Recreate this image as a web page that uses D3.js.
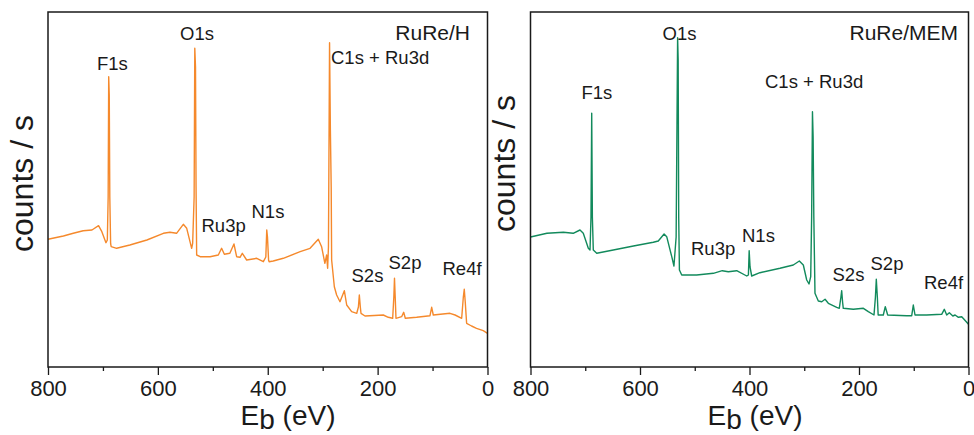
<!DOCTYPE html>
<html><head><meta charset="utf-8">
<script src="https://cdn.jsdelivr.net/npm/d3@7"></script>
<style>
html,body{margin:0;padding:0;background:#fff;}
svg{display:block;font-family:"Liberation Sans",Arial,Helvetica,sans-serif;}
</style></head>
<body><svg id="chart" width="974" height="435"></svg>
<script>
// ---------- DATA ----------
const xTicksMajor = [800, 600, 400, 200, 0];
const xTicksMinor = [700, 500, 300, 100];
const xLabel = "E";
const xLabelSub = "b";
const xLabelUnit = " (eV)";
const yLabel = "counts / s";
const panelTitles = ["RuRe/H", "RuRe/MEM"];
const peakNames = ["F1s", "O1s", "C1s + Ru3d", "Ru3p", "N1s", "S2s", "S2p", "Re4f"];

// RuRe/H spectrum (binding energy eV, counts/s arbitrary)
const ebH = [800,772,754,736,720,708,702,694.5,692,690.5,689.5,688.5,687.5,686,685,675,651,620,590,578,566,553.7,547.5,538.5,536.7,534,532.8,531.5,530.5,529.4,523,505,490,484,479,469,461.5,456.6,450.5,446.3,438.4,420,408,403.5,401.8,400.5,398.5,397.5,390,371.7,341,323,308,302,296,292.8,291,289.5,287.5,286,284.5,283.7,278.8,274.6,268.5,260.6,256.3,247.3,238,235,233.3,231.5,230.3,223,189.7,180.6,172.6,170.5,169.3,168,166.6,156.3,152.6,149.6,129,104.7,101.6,98.7,68.3,59,47,44,42.3,40.5,38,29,20,7.8,0];
const cntH = [1277,1310,1337,1363,1370,1413,1353,1243,1270,1700,2903,2720,1700,1233,1203,1187,1220,1270,1337,1347,1337,1427,1387,1187,1237,1700,3187,3000,1800,1120,1103,1103,1120,1187,1127,1137,1230,1103,1097,1137,1070,1087,1053,1100,1370,1300,1070,1053,1060,1087,1153,1187,1277,1203,1037,1120,987,1200,3243,2370,1800,1070,803,720,653,763,620,553,537,600,720,600,537,510,520,497,487,700,887,700,487,503,547,487,497,513,597,520,537,520,487,700,777,650,437,410,387,363,337];

// RuRe/MEM spectrum
const ebM = [800,770,740,722,709.6,703.6,694.4,691.3,689.5,688.2,687,685.3,679,648.8,612,575.7,566.6,556,551.2,542,538,534,532.5,531.3,530.3,529.3,528,523.8,496.5,466,449.7,438.7,423.4,405,402,400.6,399,396,381,344.3,320,309,301.7,295.5,291.3,288.2,286.5,285,283.8,282.5,280.4,274.3,268,262,256,240.7,236,233,231.6,230,228.7,210.4,192,183,172.6,170,168.4,166.5,165,155.6,152,147.6,112.9,103.7,100.8,97.7,76.4,49,44.2,39.8,35,28.6,24.5,18.4,12.4,8.2,0];
const cntM = [1300,1337,1347,1337,1370,1337,1187,1170,1500,2537,1500,1170,1137,1170,1210,1247,1260,1330,1303,1103,1010,1300,2400,3293,3070,1500,970,920,920,937,963,953,963,910,920,1163,1000,910,943,987,1020,1060,1020,870,830,903,1500,2553,2300,1500,737,660,653,677,637,597,587,700,763,650,587,577,587,553,520,700,877,700,520,520,603,520,513,513,620,520,520,527,577,520,543,510,520,497,503,477,427];

// ---------- LAYOUT ----------
const panels = [
  {x0:48, x1:487.5, eb:ebH, cnt:cntH, color:"#F5892C", title:panelTitles[0], titleX:470,
   yLab:{x:33, y:183.5}, xLab:{x:288},
   labels:[[97,70],[180,39.5],[331,63.5],[201.5,232],[251.5,218],[351.5,281.5],[388.5,269],[442.5,275]]},
  {x0:530.5, x1:968.5, eb:ebM, cnt:cntM, color:"#128A5C", title:panelTitles[1], titleX:958,
   yLab:{x:515, y:163.5}, xLab:{x:755},
   labels:[[581.5,98.5],[662.5,39.5],[765,87.5],[691,255],[742,241.5],[832.5,281],[870.5,269.5],[924,288.5]]}
];
const yTop = 12, yBot = 367;
const textColor = "#1a1a1a";

const svg = d3.select("#chart");

panels.forEach(p => {
  const x = d3.scaleLinear().domain([800, 0]).range([p.x0, p.x1]);
  const y = d3.scaleLinear().domain([0, 3550]).range([yBot, yTop]);
  const g = svg.append("g");

  // spectrum line
  const pts = p.eb.map((e, i) => [e, p.cnt[i]]);
  g.append("path")
    .datum(pts)
    .attr("fill", "none")
    .attr("stroke", p.color)
    .attr("stroke-width", 1.4)
    .attr("stroke-linejoin", "round")
    .attr("d", d3.line().x(d => x(d[0])).y(d => y(d[1])));

  // frame
  g.append("rect")
    .attr("x", p.x0).attr("y", yTop)
    .attr("width", p.x1 - p.x0).attr("height", yBot - yTop)
    .attr("fill", "none").attr("stroke", "#1a1a1a").attr("stroke-width", 1.5);

  // axes
  const axMaj = g.append("g").attr("transform", `translate(0,${yBot})`)
    .call(d3.axisBottom(x).tickValues(xTicksMajor).tickSize(8).tickPadding(5).tickFormat(d3.format("d")));
  const axMin = g.append("g").attr("transform", `translate(0,${yBot})`)
    .call(d3.axisBottom(x).tickValues(xTicksMinor).tickSize(4).tickFormat(""));
  [axMaj, axMin].forEach(a => {
    a.select(".domain").remove();
    a.selectAll("line").attr("stroke", "#1a1a1a").attr("stroke-width", 1.3);
    a.selectAll("text").attr("fill", textColor).style("font-size", "22px")
      .style("font-family", "'Liberation Sans',Arial,sans-serif");
  });

  // x label
  const xl = g.append("text").attr("x", p.xLab.x).attr("y", 425)
    .attr("text-anchor", "middle").attr("fill", textColor).style("font-size", "28px");
  xl.append("tspan").text(xLabel);
  xl.append("tspan").attr("dy", 4).text(xLabelSub);
  xl.append("tspan").attr("dy", -4).text(xLabelUnit);

  // y label
  g.append("text")
    .attr("transform", `translate(${p.yLab.x},${p.yLab.y}) rotate(-90)`)
    .attr("text-anchor", "middle").attr("fill", textColor)
    .style("font-size", "32px").text(yLabel);

  // title
  g.append("text").attr("x", p.titleX).attr("y", 39.5)
    .attr("text-anchor", "end").attr("fill", textColor)
    .style("font-size", "21px").text(p.title);

  // peak labels
  peakNames.forEach((n, i) => {
    g.append("text").attr("x", p.labels[i][0]).attr("y", p.labels[i][1])
      .attr("fill", textColor).style("font-size", "18.5px").text(n);
  });
});
</script></body></html>
